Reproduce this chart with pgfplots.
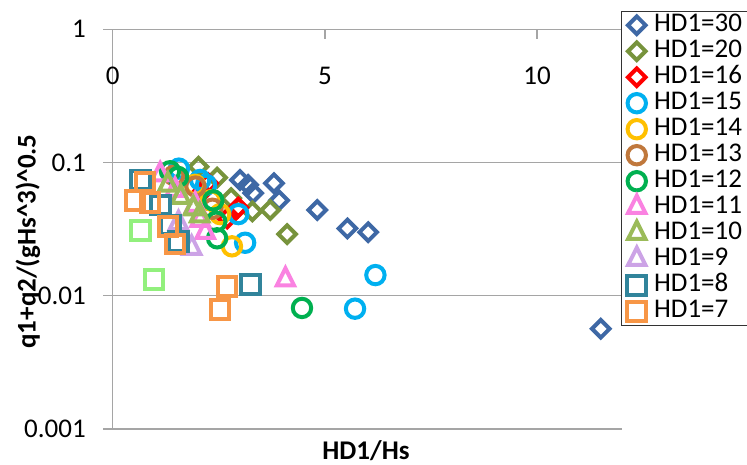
\documentclass[border=0pt]{standalone}
\usepackage{pgfplots}
\pgfplotsset{compat=1.18}
\usepackage{fontspec}
\setmainfont{Carlito}
\definecolor{c30}{RGB}{62,104,165}
\definecolor{c20}{RGB}{119,147,60}
\definecolor{c16}{RGB}{255,0,0}
\definecolor{c15}{RGB}{0,176,240}
\definecolor{c14}{RGB}{255,192,0}
\definecolor{c13}{RGB}{192,120,60}
\definecolor{c12}{RGB}{0,176,80}
\definecolor{c11}{RGB}{250,130,225}
\definecolor{c10}{RGB}{155,187,89}
\definecolor{c9}{RGB}{204,163,230}
\definecolor{c8}{RGB}{49,132,155}
\definecolor{c7}{RGB}{247,150,70}
\definecolor{c6}{RGB}{146,240,125}
\definecolor{gridc}{RGB}{165,165,165}
\newcommand{\fs}{\fontsize{27}{32}\selectfont}
\begin{document}
\begin{tikzpicture}
\begin{axis}[
  at={(0,0)}, anchor=south west,
  scale only axis, width=509.3pt, height=399.7pt,
  xmin=0, xmax=12, ymode=log, ymin=0.001, ymax=1,
  axis x line*=top, axis y line*=left,
  axis line style={draw=gridc, line width=1.3pt},
  xtick={0,5,10}, xticklabels={0,5,10},
  ytick={0.001,0.01,0.1,1}, yticklabels={0.001,0.01,0.1,1},
  yminorticks=false, xminorticks=false,
  ymajorgrids=true,
  major grid style={draw=gridc, line width=1.3pt},
  tick align=inside, major tick length=9.5pt,
  tick style={draw=gridc, line width=1.3pt},
  y tick style={xshift=-9.5pt},
  ticklabel style={font=\fs},
  x tick label style={anchor=center, inner sep=0pt, yshift=-46.7pt},
  y tick label style={anchor=east, inner sep=0pt, xshift=-26.7pt},
  only marks,
  legend image code/.code={\draw[#1] plot coordinates {(0pt,0pt)};},
  legend cell align=left,
  legend style={at={(0.998,1.046)}, anchor=north west, draw=black!80, line width=1pt,
    fill=white, font=\fs, inner xsep=6pt, inner ysep=0.8pt, column sep=8pt,
    nodes={inner sep=0pt, text height=19pt, text depth=7pt}},
  dia/.style={mark=square, mark size=6.2pt, mark options={rotate=45, line width=4pt, fill=none}},
  cir/.style={mark=o, mark size=9.2pt, mark options={line width=4pt, fill=none}},
  sqr/.style={mark=square, mark size=9.3pt, mark options={line width=4pt, fill=none}},
  tri/.style={mark=triangle, mark size=10pt, mark options={yscale=1.15, line width=4pt, fill=none}},
]
\addplot[color=c30, dia] coordinates {(3.0,0.074) (3.19,0.068) (3.31,0.059) (3.80,0.070) (3.92,0.052) (4.82,0.044) (5.53,0.032) (6.02,0.030) (11.5,0.00565)};
\addlegendentry{HD1=30}
\addplot[color=c20, dia] coordinates {(2.02,0.093) (2.46,0.077) (2.79,0.054) (3.29,0.043) (3.71,0.044) (4.11,0.029)};
\addlegendentry{HD1=20}
\addplot[color=c16, dia] coordinates {(2.25,0.070) (2.96,0.046) (2.70,0.038) (2.10,0.060)};
\addlegendentry{HD1=16}
\addplot[color=c15, cir] coordinates {(1.56,0.090) (2.06,0.074) (2.20,0.068) (2.96,0.041) (3.12,0.025) (6.19,0.0143) (5.71,0.0080)};
\addlegendentry{HD1=15}
\addplot[color=c14, cir] coordinates {(1.94,0.068) (2.30,0.052) (2.53,0.041) (2.81,0.0235)};
\addlegendentry{HD1=14}
\addplot[color=c13, cir] coordinates {(1.45,0.080) (1.95,0.066) (2.35,0.045)};
\addlegendentry{HD1=13}
\addplot[color=c12, cir] coordinates {(1.35,0.086) (1.54,0.078) (2.37,0.052) (2.44,0.036) (2.46,0.027) (4.46,0.0081)};
\addlegendentry{HD1=12}
\addplot[color=c11, tri] coordinates {(1.12,0.081) (1.47,0.062) (1.94,0.048) (2.06,0.037) (2.18,0.030) (4.07,0.0132)};
\addlegendentry{HD1=11}
\addplot[color=c10, tri] coordinates {(1.30,0.068) (1.60,0.055) (1.90,0.045) (2.05,0.040)};
\addlegendentry{HD1=10}
\addplot[color=c9, tri] coordinates {(1.55,0.035) (1.86,0.0228)};
\addlegendentry{HD1=9}
\addplot[color=c8, sqr] coordinates {(0.65,0.074) (1.12,0.048) (1.36,0.034) (1.55,0.0255) (3.24,0.0122)};
\addlegendentry{HD1=8}
\addplot[color=c7, sqr] coordinates {(0.76,0.0716) (0.53,0.052) (0.88,0.050) (1.30,0.033) (1.47,0.0245) (2.69,0.0117) (2.53,0.00785)};
\addlegendentry{HD1=7}
\addplot[color=c6, sqr, forget plot] coordinates {(0.97,0.0133) (0.66,0.031)};
\end{axis}
\node[rotate=90, inner sep=0pt, font=\fs\bfseries] at (-84.7pt,187.5pt) {q1+q2/(gHs\textasciicircum 3)\textasciicircum 0.5};
\node[inner sep=0pt, font=\fs\bfseries] at (253.3pt,-22pt) {HD1/Hs};
\pgfresetboundingbox
\useasboundingbox (-112.7pt,-36pt) rectangle (634.3pt,429pt);
\end{tikzpicture}
\end{document}
